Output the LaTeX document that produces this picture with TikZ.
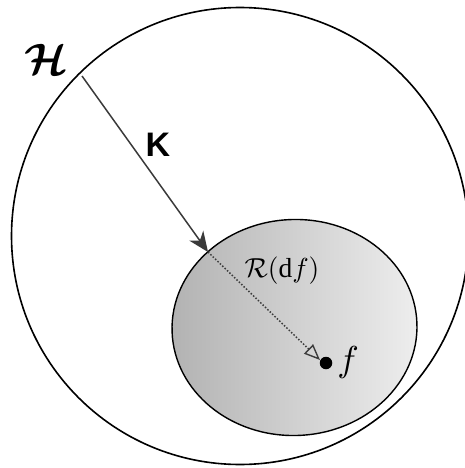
\documentclass[tikz,border=0pt]{standalone}
\usepackage{amsmath}
\usepackage{fontspec}
\setmainfont{Liberation Serif}
\newfontfamily\kfont{Liberation Sans}
\usetikzlibrary{arrows.meta}
\definecolor{shadeL}{RGB}{178,178,178}
\definecolor{shadeR}{RGB}{238,238,238}
\definecolor{arrowgray}{RGB}{58,58,58}
\definecolor{dotgray}{RGB}{60,60,60}
\tikzset{
  spaceline/.style={draw=black, line width=1.6pt},
  rangefill/.style={draw=black, line width=1.4pt, left color=shadeL, right color=shadeR},
  karrow/.style={draw=arrowgray, line width=1.5pt, -{Stealth[length=20pt, width=17pt, inset=6pt]}},
  rarrow/.style={draw=dotgray, line width=1.5pt, dash pattern=on 1.5pt off 1.8pt, -{Triangle[open, length=16pt, width=13pt, line width=1.4pt, sep=0pt]}},
  lbl/.style={inner sep=0pt}
}
\begin{document}
\begin{tikzpicture}[x=1pt, y=-1pt]
\useasboundingbox (0,0) rectangle (464,468);
% outer space H
\draw[spaceline] (240,236) circle [radius=228.5pt];
% range ellipse
\path[rangefill, rotate around={2:(294.5,327.5)}] (294.5,327.5) ellipse [x radius=122.5pt, y radius=108pt];
% points
\coordinate (kstart) at (82,76);
\coordinate (kend) at (208,252);
\coordinate (rend) at (320,360);
\node[circle, fill=black, minimum size=12.5pt, inner sep=0pt] (fdot) at (326,363) {};
% labels
\node[lbl, scale=4.4] (H) at (46,59) {$\boldsymbol{\mathcal{H}}$};
\node[lbl] (K) at (158,145) {\fontsize{34}{40}\selectfont\kfont\bfseries K};
\node[lbl, scale=2.75] (R) at (282,271) {$\mathcal{R}(\mathrm{d}f)$};
\node[lbl, scale=3.6] (f) at (348,362) {$f$};
% arrows
\draw[karrow] (kstart) -- (kend);
\draw[rarrow] (kend) -- (rend);
\end{tikzpicture}
\end{document}
